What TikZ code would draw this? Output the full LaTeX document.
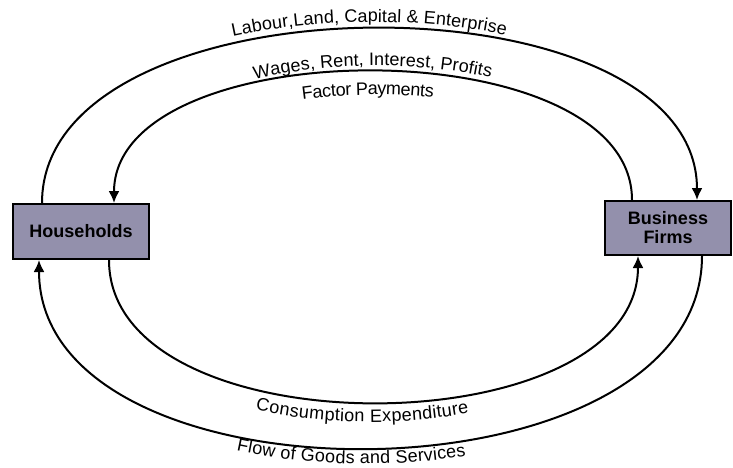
\documentclass[tikz,border=0pt]{standalone}
\usepackage{fontspec}
\setmainfont{Liberation Sans}
\usepackage{xcolor}
\usepackage{tikz}
\usetikzlibrary{decorations.text,arrows.meta}
\definecolor{boxfill}{HTML}{9390AC}
\newcommand\flowfont{\fontsize{18}{18}\selectfont}

\begin{document}
\begin{tikzpicture}[x=1pt,y=-1pt,
  sector/.style={draw=black,line width=2pt,fill=boxfill,inner sep=0pt,align=center,font=\bfseries\fontsize{18}{19}\selectfont},
  flow/.style={line width=2pt,-{Latex[length=12pt,width=11pt]}}]
\useasboundingbox (0,0) rectangle (733,467);
\node[sector,minimum width=136pt,minimum height=55pt] (hh) at (81,231.5){Households};
\node[sector,minimum width=126pt,minimum height=54pt] (bf) at (668,228){Business\\Firms};
\coordinate (hhA) at ([xshift=30pt]hh.north west);
\coordinate (hhB) at ([xshift=102pt]hh.north west);
\coordinate (hhC) at ([xshift=97pt]hh.south west);
\coordinate (hhD) at ([xshift=27pt]hh.south west);
\coordinate (bfA) at ([xshift=93pt]bf.north west);
\coordinate (bfB) at ([xshift=28pt]bf.north west);
\coordinate (bfC) at ([xshift=34pt]bf.south west);
\coordinate (bfD) at ([xshift=98pt]bf.south west);
\draw[flow] (hhA) .. controls +(0,-230) and +(0,-230) .. (bfA);
\draw[flow] (bfB) .. controls +(0,-173) and +(0,-173) .. (hhB);
\draw[flow] (hhC) .. controls +(0,192) and +(0,192) .. (bfC);
\draw[flow] (bfD) .. controls +(0,253) and +(0,253) .. (hhD);
\draw[draw=none, postaction={decorate,decoration={text along path,text align=center,raise=7pt,text={|\flowfont|Labour,Land, Capital {\&} Enterprise}}}] (hhA) .. controls +(0,-230) and +(0,-230) .. (bfA);
\draw[draw=none, postaction={decorate,decoration={text along path,text align=center,raise=6pt,text={|\flowfont|Wages, Rent, Interest, Profits}}}] (hhB) .. controls +(0,-173) and +(0,-173) .. (bfB);
\draw[draw=none, postaction={decorate,decoration={text along path,text align={align=center,right indent=10pt},raise=-23pt,text={|\flowfont|Factor Payments}}}] (hhB) .. controls +(0,-173) and +(0,-173) .. (bfB);
\draw[draw=none, postaction={decorate,decoration={text along path,text align={align=center,right indent=24pt},raise=-20pt,text={|\flowfont|Consumption Expenditure}}}] (hhC) .. controls +(0,192) and +(0,192) .. (bfC);
\draw[draw=none, postaction={decorate,decoration={text along path,text align={align=center,right indent=40pt},raise=-16pt,text={|\flowfont|Flow of Goods and Services}}}] (hhD) .. controls +(0,253) and +(0,253) .. (bfD);
\end{tikzpicture}
\end{document}
